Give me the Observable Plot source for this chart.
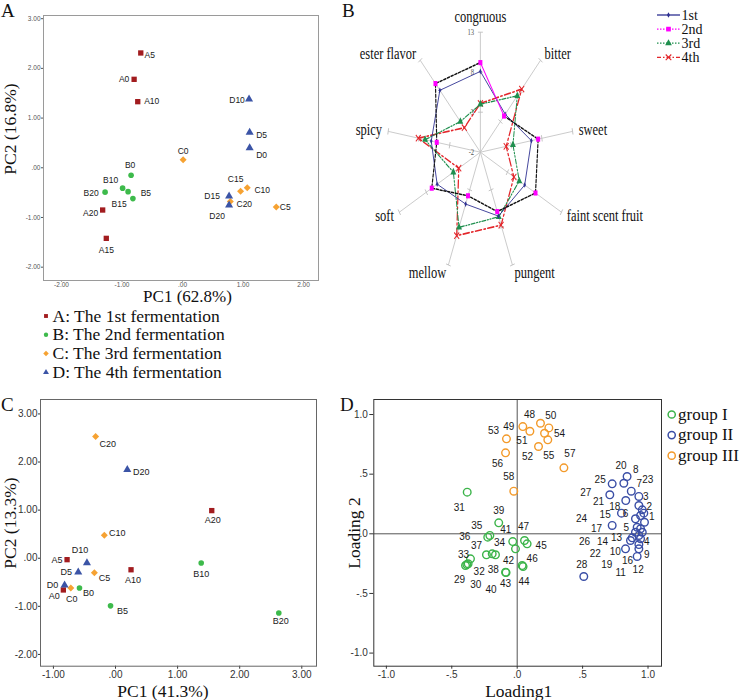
<!DOCTYPE html>
<html><head><meta charset="utf-8">
<script src="https://cdn.jsdelivr.net/npm/d3@7"></script>
<script src="https://cdn.jsdelivr.net/npm/@observablehq/plot@0.6"></script>
<style>
html,body{margin:0;padding:0;background:#fff;}
#wrap{position:relative;width:740px;height:700px;overflow:hidden;background:#fff;}
.panel{position:absolute;}
.panel svg{overflow:visible;display:block;}
#overlay{position:absolute;left:0;top:0;pointer-events:none;}
</style></head>
<body><div id="wrap"></div>
<script>
// ================= DATA =================
// Panel A: PCA of samples
const samplesA = ["A0","A5","A10","A15","A20","B0","B5","B10","B15","B20","C0","C5","C10","C15","C20","D0","D5","D10","D15","D20"];
const pc1A = [-0.80,-0.69,-0.74,-1.26,-1.32,-0.85,-0.82,-0.99,-0.90,-1.28,0.01,1.55,1.07,0.96,0.79,1.11,1.11,1.10,0.77,0.77];
const pc2A = [1.78,2.31,1.33,-1.42,-0.85,-0.15,-0.62,-0.41,-0.48,-0.49,0.16,-0.79,-0.40,-0.47,-0.68,0.40,0.71,1.38,-0.57,-0.75];
const ticksAx = [-2,-1,0,1,2];
const ticksAy = [-2,-1,0,1,2,3];
const titleAx = "PC1 (62.8%)", titleAy = "PC2 (16.8%)";
const fermentKeys = ["A","B","C","D"];
const fermentNames = ["A: The 1st fermentation","B: The 2nd fermentation","C: The 3rd fermentation","D: The 4th fermentation"];

// Panel B: sensory radar
const sensoryAttrs = ["congruous","bitter","sweet","faint scent fruit","pungent","mellow","soft","spicy","ester flavor"];
const radarNames = ["1st","2nd","3rd","4th"];
const radar1st = [8.1,4.2,6.3,6.2,6.5,4.9,6.0,6.0,8.1];
const radar2nd = [9.2,3.9,7.4,8.2,5.9,3.8,7.0,5.1,9.2];
const radar3rd = [4.0,7.2,3.3,5.2,6.6,8.0,3.0,7.0,3.0];
const radar4th = [4.1,8.3,2.2,4.2,7.7,9.1,2.0,8.1,2.0];
const radarTicks = [-2,3,8,13];

// Panel C: PCA of samples
const samplesC = ["A0","A5","A10","A20","B0","B5","B10","B20","C0","C5","C10","C20","D0","D5","D10","D20"];
const pc1C = [-0.84,-0.78,0.25,1.55,-0.58,-0.08,1.38,2.63,-0.72,-0.34,-0.18,-0.32,-0.82,-0.60,-0.46,0.19];
const pc2C = [-0.66,-0.03,-0.24,0.99,-0.62,-0.99,-0.10,-1.14,-0.62,-0.30,0.48,2.53,-0.56,-0.29,-0.10,1.84];
const ticksCx = [-1,0,1,2,3];
const ticksCy = [-2,-1,0,1,2,3];
const titleCx = "PC1 (41.3%)", titleCy = "PC2 (13.3%)";

// Panel D: loading plot
const groupNames = ["group I","group II","group III"];
const groupI_ids = [29,30,31,32,33,34,35,36,37,38,39,40,41,42,43,44,45,46,47];
const groupI_l1 = [-0.395,-0.385,-0.382,-0.375,-0.357,-0.166,-0.209,-0.225,-0.235,-0.191,-0.141,-0.085,-0.034,-0.013,-0.089,0.045,0.076,0.038,0.056];
const groupI_l2 = [-0.266,-0.258,0.349,-0.251,-0.210,-0.176,-0.014,-0.028,-0.176,-0.168,0.092,-0.325,-0.065,-0.126,-0.322,-0.275,-0.084,-0.266,-0.056];
const groupII_ids = [1,2,3,4,5,6,7,8,9,10,11,12,13,14,15,16,17,18,19,20,21,22,23,24,25,26,27,28];
const groupII_l1 = [0.968,0.956,0.930,0.930,0.917,0.904,0.872,0.815,0.930,0.879,0.943,0.917,0.866,0.904,0.726,0.828,0.943,0.830,0.930,0.840,0.797,0.956,0.930,0.973,0.726,0.943,0.708,0.509];
const groupII_l2 = [0.173,0.201,0.237,-0.090,0.055,0.126,0.357,0.424,-0.126,-0.034,-0.042,-0.190,-0.056,0.013,0.070,-0.126,0.153,0.279,-0.014,0.480,0.173,0.013,0.313,0.097,0.419,0.042,0.327,-0.358];
const groupIII_ids = [48,49,50,51,52,53,54,55,56,57,58];
const groupIII_l1 = [0.178,0.043,0.242,0.097,0.163,-0.082,0.209,0.234,-0.089,0.357,-0.026];
const groupIII_l2 = [0.927,0.899,0.888,0.860,0.732,0.796,0.843,0.788,0.679,0.553,0.357];
const ticksD = [-1,-0.5,0,0.5,1];
const titleDx = "Loading1", titleDy = "Loading 2";

// ================= LAYOUT / STYLE =================
const SANS = "'Liberation Sans', Arial, Helvetica, sans-serif";
const SERIF = "'Liberation Serif', 'Times New Roman', Times, serif";
const tickFmt = dec => d => d.toFixed(dec).replace(/^(-?)0\./, "$1.");
const diamondSym = {draw(ctx, size){const s = Math.sqrt(size/2); ctx.moveTo(0,-s); ctx.lineTo(s,0); ctx.lineTo(0,s); ctx.lineTo(-s,0); ctx.closePath();}};
const groupStyle = {
  A:{fill:"#a21c1f", symbol:"square", d3sym:d3.symbolSquare, r:3},
  B:{fill:"#3dba4b", symbol:"circle", d3sym:d3.symbolCircle, r:2.8},
  C:{fill:"#f6a232", symbol:diamondSym, d3sym:diamondSym, r:2.8},
  D:{fill:"#3b54a6", symbol:"triangle", d3sym:d3.symbolTriangle, r:3}
};
// label offsets (px) relative to point
const nudgeA = {A0:[-10,0],A5:[9,2],A10:[14,0],A15:[0,12],A20:[-12,3],B0:[-1,-10],B5:[13,-5],B10:[-12,-8],B15:[-9,13],B20:[-14,1],
  C0:[0,-9],C5:[9,0],C10:[15,3],C15:[-5,-12],C20:[14,3],D0:[12,7],D5:[12,3],D10:[-12,1],D15:[-17,0],D20:[-12,11]};
const nudgeC = {C20:[12,8],D20:[14,2],A20:[1,10],C10:[13,-2],D10:[-7,-13],A5:[-10,0],D5:[-12,0],C5:[10,5],A10:[2,10],B10:[0,11],
  D0:[-12,0],A0:[-9,6],C0:[1,11],B0:[9,5],B5:[12,5],B20:[2,8]};
const nudgeD = {
  29:[-6,14],30:[9,20],31:[-8,16],32:[11,8],33:[-7,-4],34:[4,-12],35:[-13,-10],36:[-23,0],37:[-10,-9],38:[1,16],39:[0,-12],
  40:[-15,17],41:[-7,-12],42:[-7,12],43:[0,12],44:[1,15],45:[14,2],46:[10,-7],47:[-1,-14],
  1:[8,4],2:[7,-3],3:[7,-9],4:[8,-3],5:[-11,1],6:[-10,-5],7:[8,-7],8:[12,-13],9:[8,6],10:[-17,14],11:[-20,34],12:[1,13],
  13:[-14,-3],14:[-33,10],15:[-7,-11],16:[2,12],17:[-44,13],18:[-11,6],19:[-32,29],20:[-6,-11],21:[-23,-11],22:[-47,22],
  23:[9,-17],24:[-63,-3],25:[-12,-4],26:[-56,13],27:[-24,-2],28:[-2,-12],
  48:[-11,-8],49:[-14,0],50:[2,-12],51:[-8,10],52:[-11,10],53:[-13,-8],54:[15,1],55:[1,16],56:[-8,11],57:[6,-14],58:[-5,-14]};

const wrap = document.getElementById("wrap");
function place(node, left, top, extra){
  const div = document.createElement("div");
  div.className = "panel"; div.style.left = left+"px"; div.style.top = top+"px";
  if (extra) Object.assign(div.style, extra);
  div.appendChild(node); wrap.appendChild(div); return div;
}

function scatterPlot(cfg){
  const rows = cfg.labels.map((label,i)=>({label, group: label[0], x: cfg.xs[i], y: cfg.ys[i]}));
  const marks = [Plot.frame({stroke: cfg.frameColor})];
  for (const g of fermentKeys){
    const st = groupStyle[g];
    marks.push(Plot.dot(rows.filter(d=>d.group===g), {x:"x", y:"y", symbol: st.symbol, r: st.r, fill: st.fill}));
  }
  for (const d of rows){
    const [dx,dy] = cfg.nudge[d.label] || [0,0];
    marks.push(Plot.text([d], {x:"x", y:"y", text:"label", dx, dy, fontSize: cfg.labelFont, fontFamily: SANS, fill:"#1a1a1a"}));
  }
  return Plot.plot({
    width: cfg.width, height: cfg.height,
    marginLeft: cfg.m[0], marginRight: cfg.m[1], marginTop: cfg.m[2], marginBottom: cfg.m[3],
    x:{domain: cfg.xDomain, ticks: cfg.xTicks, tickFormat: tickFmt(2), tickSize: cfg.tx[0], tickPadding: cfg.tx[1], label:null},
    y:{domain: cfg.yDomain, ticks: cfg.yTicks, tickFormat: tickFmt(2), tickSize: cfg.ty[0], tickPadding: cfg.ty[1], label:null},
    style:{fontFamily: SANS, fontSize: cfg.tickFont+"px", color: cfg.tickColor, background:"transparent", overflow:"visible"},
    marks
  });
}

// ---- Panel A ----
place(scatterPlot({labels:samplesA, xs:pc1A, ys:pc2A, nudge:nudgeA, width:330, height:300, m:[43,12,15,20],
  xDomain:[-2.298,2.248], yDomain:[-2.268,3.064], xTicks:ticksAx, yTicks:ticksAy, tx:[1.5,0], ty:[2,1],
  tickFont:6.5, labelFont:8.5, frameColor:"#9a9a9a", tickColor:"#555"}), 0, 0);

// ---- Panel C ----
place(scatterPlot({labels:samplesC, xs:pc1C, ys:pc2C, nudge:nudgeC, width:330, height:320, m:[40,14,19,34.3],
  xDomain:[-1.208,3.237], yDomain:[-2.245,3.30], xTicks:ticksCx, yTicks:ticksCy, tx:[3,2], ty:[2,1],
  tickFont:10, labelFont:9, frameColor:"#666", tickColor:"#333"}), 0, 380);

// ---- Panel D ----
(function(){
  const mk = (ids,l1,l2,group)=>ids.map((id,i)=>({id, group, x:l1[i], y:l2[i]}));
  const groups = [
    {rows: mk(groupI_ids, groupI_l1, groupI_l2, "I"), color:"#3cb44a"},
    {rows: mk(groupII_ids, groupII_l1, groupII_l2, "II"), color:"#3a4ea6"},
    {rows: mk(groupIII_ids, groupIII_l1, groupIII_l2, "III"), color:"#f39a2a"}
  ];
  const marks = [Plot.ruleX([0], {stroke:"#555"}), Plot.ruleY([0], {stroke:"#555"}), Plot.frame({stroke:"#333"})];
  for (const g of groups) marks.push(Plot.dot(g.rows, {x:"x", y:"y", r:3.8, stroke:g.color, strokeWidth:1.4, fill:"none"}));
  for (const g of groups) for (const d of g.rows){
    const [dx,dy] = nudgeD[d.id] || [0,0];
    marks.push(Plot.text([d], {x:"x", y:"y", text: d=>String(d.id), dx, dy, fontSize:10, fontFamily:SANS, fill:"#1a1a1a"}));
  }
  const svg = Plot.plot({
    width:330, height:320, marginLeft:33.3, marginRight:9, marginTop:19, marginBottom:34.3,
    x:{domain:[-1.096,1.103], ticks:ticksD, tickFormat:tickFmt(1), tickSize:3, tickPadding:2, label:null},
    y:{domain:[-1.110,1.126], ticks:ticksD, tickFormat:tickFmt(1), tickSize:4, tickPadding:2, label:null},
    style:{fontFamily:SANS, fontSize:"10px", color:"#333", background:"transparent", overflow:"visible"},
    marks
  });
  place(svg, 340, 380);
})();

// ---- Panel B (radar) ----
(function(){
  const n = sensoryAttrs.length;
  const ang = i => i*2*Math.PI/n;
  const rad = v => v - radarTicks[0];
  const pt = (i,v) => ({x: rad(v)*Math.sin(ang(i)), y: rad(v)*Math.cos(ang(i))});
  const maxT = radarTicks[radarTicks.length-1];
  const spokes = sensoryAttrs.map((a,i)=>({x1:0,y1:0,x2:pt(i,maxT).x,y2:pt(i,maxT).y}));
  const crossTicks = [];
  sensoryAttrs.forEach((a,i)=>radarTicks.slice(1).forEach(t=>{
    const p = pt(i,t), h = 0.4, c = Math.cos(ang(i)), s = Math.sin(ang(i));
    crossTicks.push({x1:p.x-h*c, y1:p.y+h*s, x2:p.x+h*c, y2:p.y-h*s});
  }));
  const seriesRows = vals => vals.map((v,i)=>({attr:sensoryAttrs[i], v, ...pt(i,v)}));
  const s1 = seriesRows(radar1st), s2 = seriesRows(radar2nd), s3 = seriesRows(radar3rd), s4 = seriesRows(radar4th);
  const loop = rows => rows.concat([rows[0]]);
  const catRows = sensoryAttrs.map((a,i)=>({a, s:Math.sin(ang(i)), ...pt(i, maxT+1)}));
  const tickRows = radarTicks.map(t=>({t, ...pt(0,t)}));
  const svg = Plot.plot({
    width:400, height:300, marginLeft:0, marginRight:0, marginTop:0, marginBottom:0,
    x:{domain:[-17.5,32.5], axis:null},
    y:{domain:[-148.3/8, 151.7/8], axis:null},
    style:{background:"transparent", overflow:"visible"},
    marks:[
      Plot.link(spokes, {x1:"x1",y1:"y1",x2:"x2",y2:"y2", stroke:"#c4c4c4", strokeWidth:1}),
      Plot.link(crossTicks, {x1:"x1",y1:"y1",x2:"x2",y2:"y2", stroke:"#bdbdbd", strokeWidth:1}),
      Plot.text(tickRows, {x:"x", y:"y", text:d=>String(d.t), textAnchor:"end", dx:-8, fontSize:8.5, fontFamily:SERIF, fill:"#555"}),
      Plot.line(loop(s4), {x:"x", y:"y", stroke:"#e3262b", strokeWidth:1.6, strokeDasharray:"8,3,2,3"}),
      Plot.line(loop(s3), {x:"x", y:"y", stroke:"#1f8f4e", strokeWidth:1.3, strokeDasharray:"5,2,1.5,2,1.5,2"}),
      Plot.line(loop(s1), {x:"x", y:"y", stroke:"#2e3192", strokeWidth:1}),
      Plot.line(s2.slice(1).concat([s2[0]]), {x:"x", y:"y", stroke:"#111", strokeWidth:1.5, strokeDasharray:"3,2"}),
      Plot.line(s2.slice(0,2), {x:"x", y:"y", stroke:"#ff00ff", strokeWidth:1.2}),
      Plot.dot(s4, {x:"x", y:"y", symbol:"times", r:3, stroke:"#e3262b", strokeWidth:1.2}),
      Plot.dot(s3, {x:"x", y:"y", symbol:"triangle", r:2.8, fill:"#1f8f4e"}),
      Plot.dot(s1, {x:"x", y:"y", symbol:"diamond", r:1.7, fill:"#2e3192"}),
      Plot.dot(s2, {x:"x", y:"y", symbol:"square", r:2.9, fill:"#ff00ff"}),
      Plot.text(catRows.filter(d=>d.s>0.1), {x:"x", y:"y", text:"a", textAnchor:"start", fontSize:16, fontFamily:SERIF, fill:"#111"}),
      Plot.text(catRows.filter(d=>d.s<-0.1), {x:"x", y:"y", text:"a", textAnchor:"end", fontSize:16, fontFamily:SERIF, fill:"#111"}),
      Plot.text(catRows.filter(d=>Math.abs(d.s)<=0.1), {x:"x", y:"y", text:"a", textAnchor:"middle", dy:-7, fontSize:16, fontFamily:SERIF, fill:"#111"})
    ]
  });
  place(svg, 340, 0, {transform:"scaleX(0.78)", transformOrigin:"140px 0px"});
})();

// ================= OVERLAY TEXT & LEGENDS =================
const ov = d3.select(wrap).append("svg").attr("id","overlay").attr("width",740).attr("height",700);
function txt(s, x, y, size, opt={}){
  const t = ov.append("text").attr("x",x).attr("y",y).attr("font-family",SERIF).attr("font-size",size)
    .attr("fill", opt.fill || "#111").attr("text-anchor", opt.anchor || "start").text(s);
  if (opt.rotate) t.attr("x",0).attr("y",0).attr("transform",`translate(${x},${y}) rotate(-90)`);
  return t;
}
// panel letters
txt("A", 1, 17, 19); txt("B", 342, 17, 19); txt("C", 1, 411, 19); txt("D", 340, 411, 19);
// axis titles
txt(titleAx, 187.5, 302, 17, {anchor:"middle"});
txt(titleAy, 16, 129, 17.5, {anchor:"middle", rotate:true});
txt(titleCx, 163, 697, 17.5, {anchor:"middle"});
txt(titleCy, 16, 523, 17.5, {anchor:"middle", rotate:true});
txt(titleDx, 518.7, 697, 17.5, {anchor:"middle"});
txt(titleDy, 360, 533, 17.5, {anchor:"middle", rotate:true});

// legend A
fermentNames.forEach((name,i)=>{
  const by = 321.5 + i*18.8;
  const st = groupStyle[fermentKeys[i]];
  ov.append("path").attr("d", d3.symbol().type(st.d3sym).size(15)()).attr("transform",`translate(46,${by-5.5})`).attr("fill",st.fill);
  txt(name, 52.5, by, 17.5);
});

// legend B
const radarLegendStyle = [
  {stroke:"#2e3192", dash:null, sym:d3.symbolDiamond, size:8, fill:"#2e3192"},
  {stroke:"#ff00ff", dash:"1.5,1.5", sym:d3.symbolSquare, size:22, fill:"#ff00ff"},
  {stroke:"#1f8f4e", dash:"1.5,1.5", sym:d3.symbolTriangle, size:20, fill:"#1f8f4e"},
  {stroke:"#e3262b", dash:"4,2,1.5,2", sym:d3.symbolTimes, size:22, fill:"none", ms:"#e3262b"}
];
radarNames.forEach((name,i)=>{
  const y = 15 + i*14.1, st = radarLegendStyle[i];
  const l = ov.append("line").attr("x1",657).attr("x2",680).attr("y1",y).attr("y2",y).attr("stroke",st.stroke).attr("stroke-width",1.3);
  if (st.dash) l.attr("stroke-dasharray", st.dash);
  ov.append("path").attr("d", d3.symbol().type(st.sym).size(st.size)()).attr("transform",`translate(668.5,${y})`)
    .attr("fill", st.fill).attr("stroke", st.ms || "none").attr("stroke-width",1.1);
  txt(name, 681.5, y+4.7, 14);
});

// legend D
const groupColors = ["#3cb44a","#3a4ea6","#f39a2a"];
groupNames.forEach((name,i)=>{
  const by = 419.5 + i*20.6;
  ov.append("circle").attr("cx",671.7).attr("cy",by-5).attr("r",3.6).attr("fill","none").attr("stroke",groupColors[i]).attr("stroke-width",1.5);
  txt(name, 678, by, 17);
});
</script>
</body></html>
